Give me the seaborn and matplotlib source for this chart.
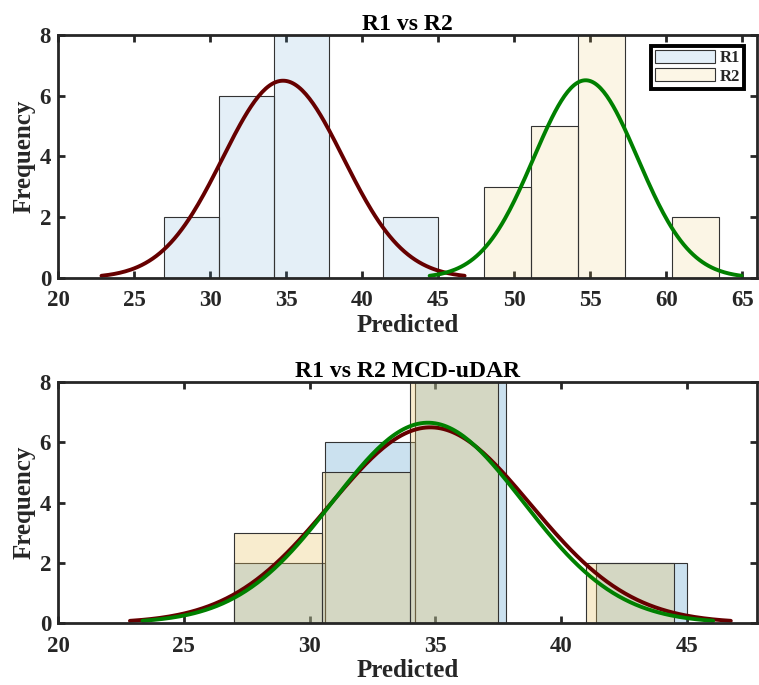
import numpy as np
import pandas as pd
import matplotlib
matplotlib.use("Agg")
import matplotlib.pyplot as plt
import seaborn as sns
from matplotlib.patches import Patch

sns.set_theme(style="white")
plt.rcParams['font.family'] = ['Liberation Serif', 'DejaVu Serif']
plt.rcParams['font.weight'] = 'bold'

# ---------------- data ----------------
# Top panel: R1 vs R2
r1_edges = [27.0, 30.6, 34.2, 37.8, 41.4, 45.0]
r1_counts = [2, 6, 8, 0, 2]
r2_edges = [48.0, 51.1, 54.2, 57.3, 60.4, 63.5]
r2_counts = [3, 5, 8, 0, 2]
r1_fit = (34.8, 3.98)   # mean, sd of normal fit
r2_fit = (54.7, 3.42)

# Bottom panel: R1 vs R2 MCD-uDAR
m1_edges = [27.0, 30.6, 34.2, 37.8, 41.4, 45.0]
m1_counts = [2, 6, 8, 0, 2]
m2_edges = [27.0, 30.5, 34.0, 37.5, 41.0, 44.5]
m2_counts = [3, 5, 8, 0, 2]
m1_fit = (34.8, 3.98)
m2_fit = (34.7, 3.78)

series_labels = ["R1", "R2"]
titles = ["R1 vs R2", "R1 vs R2 MCD-uDAR"]

# ---------------- style ----------------
blue = (85/255, 158/255, 205/255)
tan = (235/255, 195/255, 95/255)
red_line = (0.40, 0.0, 0.0)
green_line = (0.0, 0.50, 0.0)
edge_col = (0.2, 0.2, 0.2)
spine_col = (0.15, 0.15, 0.15)

fig = plt.figure(figsize=(7.59, 6.85), dpi=100)
ax1 = fig.add_axes([0.0764, 0.5942, 0.9216, 0.3547])
ax2 = fig.add_axes([0.0764, 0.0905, 0.9216, 0.3518])


def draw_hist(ax, edges, counts, color, alpha):
    e = np.asarray(edges)
    centers = (e[:-1] + e[1:]) / 2
    df = pd.DataFrame({"x": centers, "w": counts})
    sns.histplot(data=df, x="x", weights="w", bins=list(edges), ax=ax,
                 color=color, alpha=alpha, edgecolor=edge_col,
                 linewidth=0.8, stat="count")


def draw_fit(ax, edges, counts, fit, color):
    mu, sd = fit
    n = sum(counts)
    bw = edges[1] - edges[0]
    x = np.linspace(mu - 3 * sd, mu + 3 * sd, 200)
    y = n * bw * np.exp(-0.5 * ((x - mu) / sd) ** 2) / (sd * np.sqrt(2 * np.pi))
    sns.lineplot(x=x, y=y, ax=ax, color=color, linewidth=2.8, sort=False)


draw_hist(ax1, r1_edges, r1_counts, blue, 0.155)
draw_fit(ax1, r1_edges, r1_counts, r1_fit, red_line)
draw_hist(ax1, r2_edges, r2_counts, tan, 0.155)
draw_fit(ax1, r2_edges, r2_counts, r2_fit, green_line)

draw_hist(ax2, m1_edges, m1_counts, blue, 0.3)
draw_fit(ax2, m1_edges, m1_counts, m1_fit, red_line)
draw_hist(ax2, m2_edges, m2_counts, tan, 0.3)
draw_fit(ax2, m2_edges, m2_counts, m2_fit, green_line)

ax1.set_xlim(20, 66)
ax1.set_xticks([20, 25, 30, 35, 40, 45, 50, 55, 60, 65])
ax2.set_xlim(20, 47.8)
ax2.set_xticks([20, 25, 30, 35, 40, 45])

for ax, t in zip([ax1, ax2], titles):
    ax.set_ylim(0, 8)
    ax.set_yticks([0, 2, 4, 6, 8])
    ax.set_title(t, fontsize=17, fontweight='bold', pad=3)
    ax.set_xlabel("Predicted", fontsize=18, fontweight='bold', labelpad=2)
    ax.set_ylabel("Frequency", fontsize=18, fontweight='bold', labelpad=3)
    ax.tick_params(axis='both', which='both', direction='in', top=True, right=True,
                   bottom=True, left=True, length=5, width=2, color=spine_col,
                   labelsize=16.5)
    ax.tick_params(axis='x', pad=9)
    ax.tick_params(axis='y', pad=5)
    for lab in ax.get_xticklabels() + ax.get_yticklabels():
        lab.set_fontweight('bold')
        lab.set_color((0.15, 0.15, 0.15))
    for s in ax.spines.values():
        s.set_visible(True)
        s.set_linewidth(2.0)
        s.set_color(spine_col)
    ax.xaxis.label.set_color((0.15, 0.15, 0.15))
    ax.yaxis.label.set_color((0.15, 0.15, 0.15))
    ax.title.set_color('black')

handles = [Patch(facecolor=blue, alpha=0.155, edgecolor=edge_col, linewidth=0.8),
           Patch(facecolor=tan, alpha=0.155, edgecolor=edge_col, linewidth=0.8)]
leg = ax1.legend(handles, series_labels, loc='upper right', bbox_to_anchor=(0.9855, 0.97),
                 fancybox=False, framealpha=1, edgecolor='black',
                 prop={'weight': 'bold', 'size': 12}, handlelength=3.6, handleheight=0.8,
                 borderpad=0.25, labelspacing=0.15, handletextpad=0.25, borderaxespad=0.2)
leg.get_frame().set_linewidth(2.8)
for h in leg.legend_handles:
    h.set_alpha(None)
leg.legend_handles[0].set_facecolor((227/255, 239/255, 248/255))
leg.legend_handles[1].set_facecolor((252/255, 246/255, 230/255))

fig.savefig("out.png", dpi=100)
